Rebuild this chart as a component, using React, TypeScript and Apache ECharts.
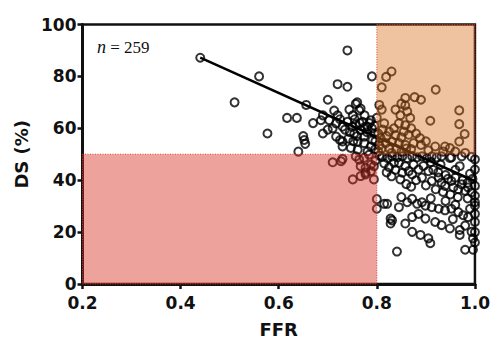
import React, { useEffect, useRef } from "react";
import * as echarts from "echarts";

// FFR (x) vs DS % (y) points, grouped by the zone they sit in
const upperLeftPoints: number[][] = [
  [0.44, 87.2], [0.51, 70], [0.56, 80], [0.577, 58], [0.617, 64], [0.637, 64],
  [0.656, 69], [0.64, 51], [0.65, 57], [0.652, 55.5], [0.654, 54], [0.74, 90],
  [0.72, 77], [0.74, 76], [0.79, 80], [0.70, 71], [0.76, 70], [0.767, 67.6],
  [0.744, 67.2], [0.751, 65], [0.775, 65], [0.69, 65], [0.686, 63.1], [0.703, 63.1],
  [0.67, 62], [0.717, 61.9], [0.73, 60.6], [0.75, 60.6], [0.757, 61.5], [0.771, 62.5],
  [0.781, 60.6], [0.788, 63.1], [0.69, 58], [0.717, 56.8], [0.725, 55.5], [0.73, 54.9],
  [0.73, 53], [0.70, 59.5], [0.754, 58], [0.767, 59.3], [0.774, 56.8], [0.761, 54.9],
  [0.774, 54.3], [0.791, 55.5], [0.788, 53], [0.747, 52.4], [0.761, 51.7], [0.781, 51.1],
  [0.795, 58], [0.795, 61], [0.713, 66.8], [0.72, 65], [0.757, 69.4], [0.764, 66.9],
  [0.735, 59.5], [0.745, 58.5], [0.76, 57], [0.78, 58.5], [0.79, 60], [0.785, 62],
  [0.775, 60.5], [0.765, 62], [0.755, 63.5], [0.74, 62.5], [0.725, 63.5], [0.71, 60],
  [0.797, 52], [0.797, 55], [0.742, 56], [0.752, 55],
];

const redZonePoints: number[][] = [
  [0.71, 46.9], [0.727, 47.3], [0.73, 48.2], [0.757, 49.2], [0.764, 47.9], [0.774, 48.6],
  [0.784, 49.8], [0.767, 45.4], [0.777, 44.8], [0.788, 46], [0.794, 45.4], [0.777, 42.9],
  [0.788, 43.5], [0.751, 40.3], [0.767, 41.6], [0.777, 42.2], [0.794, 40.3], [0.8, 32.7],
  [0.8, 29], [0.797, 47.5],
];

const orangeZonePoints: number[][] = [
  [0.83, 81.9], [0.819, 79.8], [0.81, 75.8], [0.92, 74.9], [0.858, 71.7], [0.877, 72],
  [0.89, 71], [0.858, 68.8], [0.81, 67.2], [0.838, 67.2], [0.868, 64], [0.909, 62.9],
  [0.968, 66.9], [0.968, 61.6], [0.979, 57.8], [0.968, 54.9], [0.919, 53], [0.949, 52.4],
  [0.888, 56.2], [0.875, 54.3], [0.89, 53.6], [0.848, 65], [0.845, 61.9], [0.815, 61.9],
  [0.858, 61.2], [0.825, 58.7], [0.838, 57.4], [0.855, 58.7], [0.808, 56.2], [0.818, 54.3],
  [0.831, 54.9], [0.845, 54.3], [0.858, 53.6], [0.81, 52.2], [0.825, 52.2], [0.84, 52],
  [0.86, 52.2], [0.87, 52], [0.98, 50.5], [0.939, 53], [0.803, 51], [0.805, 53.5],
  [0.803, 58], [0.812, 59.5], [0.82, 57], [0.835, 60], [0.85, 56.5], [0.865, 57.5],
  [0.87, 60], [0.88, 58], [0.9, 55], [0.905, 51.5], [0.935, 51], [0.96, 51],
  [0.85, 51], [0.83, 50.5], [0.8, 64], [0.805, 69], [0.862, 66.5], [0.85, 69.5],
];

const lowerRightPoints: number[][] = [
  [0.805, 49.5], [0.811, 49], [0.822, 48.5], [0.831, 49.2], [0.842, 48.8], [0.852, 49.2],
  [0.862, 48.5], [0.872, 49.2], [0.882, 48.8], [0.892, 49.2], [0.902, 48.5], [0.912, 49.2],
  [0.922, 48.8], [0.932, 49.2], [0.952, 48.8], [0.973, 49.2], [0.993, 49], [1.0, 48],
  [0.815, 46.5], [0.825, 45], [0.835, 46.7], [0.845, 46.7], [0.858, 45.4], [0.865, 43.5],
  [0.852, 42.9], [0.848, 40.3], [0.872, 42.2], [0.885, 44.1], [0.892, 41], [0.905, 43.5],
  [0.912, 39.7], [0.926, 41], [0.932, 39.1], [0.939, 37.8], [0.952, 39.7], [0.956, 37.2],
  [0.966, 36.5], [0.973, 38.4], [0.98, 35.9], [0.986, 37.2], [0.993, 35.3], [1.0, 44.1],
  [1.0, 37.8], [1.0, 34], [0.969, 45.4], [0.949, 48.6], [0.82, 43], [0.83, 41.5],
  [0.838, 44], [0.875, 46], [0.895, 45.5], [0.915, 44], [0.925, 43], [0.94, 42],
  [0.945, 40.5], [0.96, 41], [0.975, 40], [0.985, 39], [0.995, 40.5], [0.99, 42.5],
  [0.96, 44], [0.93, 46], [0.91, 47], [0.88, 40], [0.9, 38], [0.92, 36.5],
  [0.935, 35.5], [0.95, 34.5], [0.965, 33.5], [0.985, 33], [1.0, 31.5], [0.87, 37.5],
  [0.86, 38.5],
  [0.815, 30.9], [0.821, 30.9], [0.845, 29.6], [0.862, 31.5], [0.872, 32.8], [0.882, 30.9],
  [0.899, 30.2], [0.912, 29.6], [0.926, 29], [0.939, 28.4], [0.952, 29], [0.966, 27.7],
  [0.976, 26.5], [0.986, 25.8], [1.0, 27], [1.0, 30.2], [0.831, 24.5], [0.828, 23.3],
  [0.828, 25.2], [0.858, 23.3], [0.872, 25.8], [0.872, 20.1], [0.889, 18.9], [0.905, 17.6],
  [0.909, 15.7], [0.899, 25.2], [0.919, 23.9], [0.932, 22.7], [0.949, 21.4], [0.969, 20.8],
  [0.969, 18.9], [0.993, 20.1], [0.996, 17.6], [0.98, 13.2], [0.996, 13.2], [0.841, 12.5],
  [1.0, 23.9], [0.892, 31.5], [0.94, 32], [0.96, 30.5], [0.91, 33], [0.885, 27],
  [0.85, 33.5], [0.99, 29], [0.955, 25], [0.98, 22.5], [1.0, 20], [1.0, 16],
];

// linear regression DS = intercept + slope * FFR, drawn over the FFR data range
const regressionSlope = -85;
const regressionIntercept = 124.6;
const regressionRange = [0.44, 1.0];

// shaded zones: [ffrFrom, dsFrom, ffrTo, dsTo]
const zones: number[][] = [
  [0.2, 0, 0.8, 50],
  [0.8, 50, 1.0, 100],
];
const zoneColors = ["rgba(215,51,33,0.45)", "rgba(219,112,29,0.42)"];

const sampleSize = 259;

export default function App() {
  const ref = useRef<HTMLDivElement>(null);

  useEffect(() => {
    if (!ref.current) return;
    const chart = echarts.init(ref.current, undefined, { renderer: "svg" });
    const allPoints = [
      ...upperLeftPoints,
      ...redZonePoints,
      ...orangeZonePoints,
      ...lowerRightPoints,
    ];
    const regLine = regressionRange.map((x) => [x, regressionIntercept + regressionSlope * x]);
    const font = "DejaVu Sans";
    const ink = "#111";

    chart.setOption({
      animation: false,
      grid: {
        left: 82.5,
        right: 14.5,
        top: 24.5,
        bottom: 55,
        show: true,
        borderColor: ink,
        borderWidth: 2.5,
        backgroundColor: "transparent",
      },
      xAxis: {
        type: "value",
        min: 0.2,
        max: 1.0,
        interval: 0.2,
        name: "FFR",
        nameLocation: "middle",
        nameGap: 36,
        nameTextStyle: { fontFamily: font, fontWeight: "bold", fontSize: 18, color: ink },
        axisLine: { show: true, onZero: false, lineStyle: { color: ink, width: 3 } },
        axisTick: { show: true, length: 5, lineStyle: { color: ink, width: 2.5 } },
        axisLabel: {
          fontFamily: font,
          fontWeight: "bold",
          fontSize: 17,
          color: ink,
          margin: 10,
          formatter: (v: number) => v.toFixed(1),
        },
        splitLine: { show: false },
      },
      yAxis: {
        type: "value",
        min: 0,
        max: 100,
        interval: 20,
        name: "DS (%)",
        nameLocation: "middle",
        nameGap: 46,
        nameTextStyle: { fontFamily: font, fontWeight: "bold", fontSize: 18, color: ink },
        axisLine: { show: true, onZero: false, lineStyle: { color: ink, width: 3 } },
        axisTick: { show: true, length: 5, lineStyle: { color: ink, width: 2.5 } },
        axisLabel: { fontFamily: font, fontWeight: "bold", fontSize: 17, color: ink, margin: 6 },
        splitLine: { show: false },
      },
      graphic: [
        {
          type: "text",
          x: 97,
          y: 47,
          style: {
            text: "{i|n} = " + sampleSize,
            fontFamily: "Liberation Serif",
            fontSize: 17,
            fill: ink,
            verticalAlign: "middle",
            rich: {
              i: { fontFamily: "Liberation Serif", fontStyle: "italic", fontSize: 18, fill: ink },
            },
          },
        },
      ],
      series: [
        {
          type: "scatter",
          data: allPoints,
          symbol: "circle",
          symbolSize: 8,
          itemStyle: { color: "rgba(0,0,0,0)", borderColor: "#000", borderWidth: 2 },
          z: 2,
        },
        {
          type: "line",
          data: regLine,
          symbol: "none",
          lineStyle: { color: "#000", width: 2.5 },
          z: 3,
        },
        {
          type: "custom",
          data: zones.map((z, i) => [...z, i]),
          encode: { x: [0, 2], y: [1, 3] },
          z: 5,
          silent: true,
          renderItem: (params: any, api: any) => {
            const p0 = api.coord([api.value(0), api.value(1)]);
            const p1 = api.coord([api.value(2), api.value(3)]);
            return {
              type: "rect",
              shape: { x: p0[0], y: p1[1], width: p1[0] - p0[0], height: p0[1] - p1[1] },
              style: {
                fill: zoneColors[api.value(4)],
                stroke: "rgba(220,50,50,0.9)",
                lineWidth: 1,
                lineDash: [1, 1.5],
              },
            };
          },
        },
      ],
    });
    return () => chart.dispose();
  }, []);

  return (
    <div
      ref={ref}
      style={{ position: "absolute", left: 0, top: 0, width: 493, height: 343 }}
    />
  );
}
